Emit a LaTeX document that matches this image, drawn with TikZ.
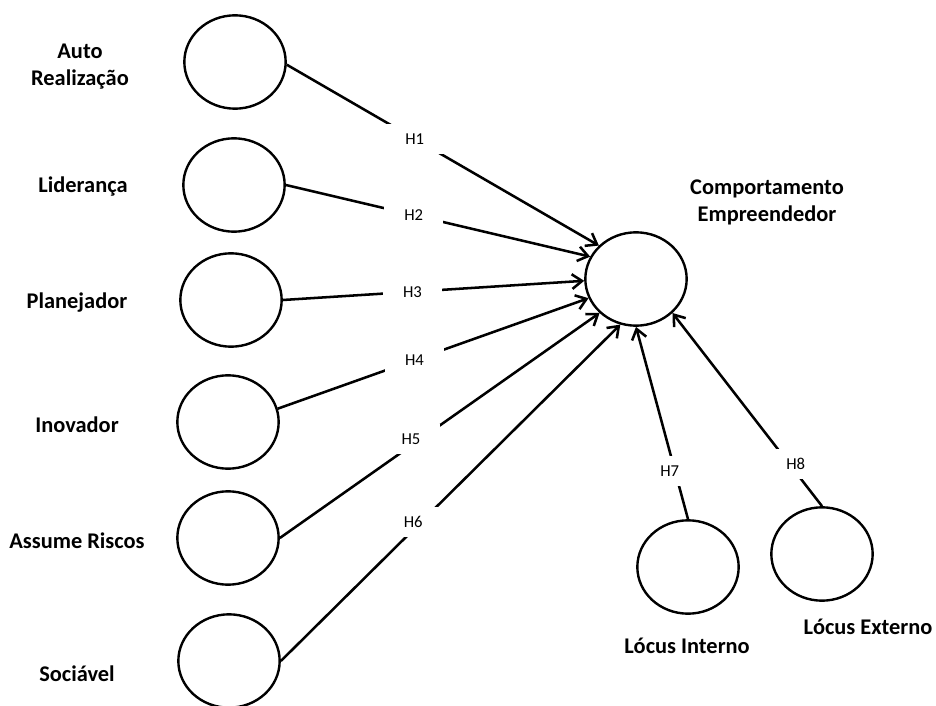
\documentclass[tikz,border=0pt]{standalone}
\usepackage{fontspec}
\setmainfont{Carlito}
\usetikzlibrary{shapes.geometric,arrows.meta}
\begin{document}
\begin{tikzpicture}[x=0.75pt,y=-0.75pt,
  construct/.style={ellipse,draw,line width=1.8pt,minimum width=76pt,minimum height=70pt,inner sep=0pt},
  cname/.style={font=\bfseries\fontsize{16.8}{20.5}\selectfont,align=center,anchor=base,inner sep=0pt},
  hypline/.style={line width=1.9pt,-{Straight Barb[length=7.5pt,width=11pt,line width=1.9pt]}},
  hyp/.style={fill=white,font=\fontsize{12.5}{14}\selectfont,inner xsep=15pt,inner ysep=7pt}
]
% canvas
\fill[white] (0,0) rectangle (936,706);
\useasboundingbox (0,0) rectangle (936,706);

% latent constructs
\node[construct] (c1) at (235,62)  {};
\node[construct] (c2) at (234,185) {};
\node[construct] (c3) at (231,300) {};
\node[construct] (c4) at (228,422) {};
\node[construct] (c5) at (228,538) {};
\node[construct] (c6) at (229,661) {};
\node[construct] (cc) at (636,279) {};
\node[construct] (ci) at (688,567) {};
\node[construct] (ce) at (822,554) {};

% construct names (base = baseline of the last line)
\node[cname] (t1) at (80,86)  {Auto\\Realização};
\node[cname] (t2) at (83,193) {Liderança};
\node[cname] (t3) at (77,308) {Planejador};
\node[cname] (t4) at (77,432) {Inovador};
\node[cname] (t5) at (77,548) {Assume Riscos};
\node[cname] (t6) at (77,681) {Sociável};
\node[cname] (tc) at (767,222) {Comportamento\\Empreendedor};
\node[cname] (ti) at (687,653) {Lócus Interno};
\node[cname] (te) at (868,634) {Lócus Externo};

% hypotheses
\draw[hypline] (c1.-3)   -- node[hyp,pos=0.41] (h1) {H1} (cc.138);
\draw[hypline] (c2.east) -- node[hyp,pos=0.42] (h2) {H2} (cc.154);
\draw[hypline] (c3.east) -- node[hyp,pos=0.43] (h3) {H3} (cc.182);
\draw[hypline] (c4.15)   -- node[hyp,pos=0.44] (h4) {H4} (cc.202);
\draw[hypline] (c5.east) -- node[hyp,pos=0.41,yshift=5pt] (h5) {H5} (cc.223);
\draw[hypline] (c6.east) -- node[hyp,pos=0.39,yshift=6pt] (h6) {H6} (cc.251);
\draw[hypline] (ci.north) -- node[hyp,pos=0.25,xshift=-4pt] (h7) {H7} (cc.270);
\draw[hypline] (ce.north) -- node[hyp,pos=0.22,xshift=5pt] (h8) {H8} (cc.317);
\end{tikzpicture}
\end{document}
